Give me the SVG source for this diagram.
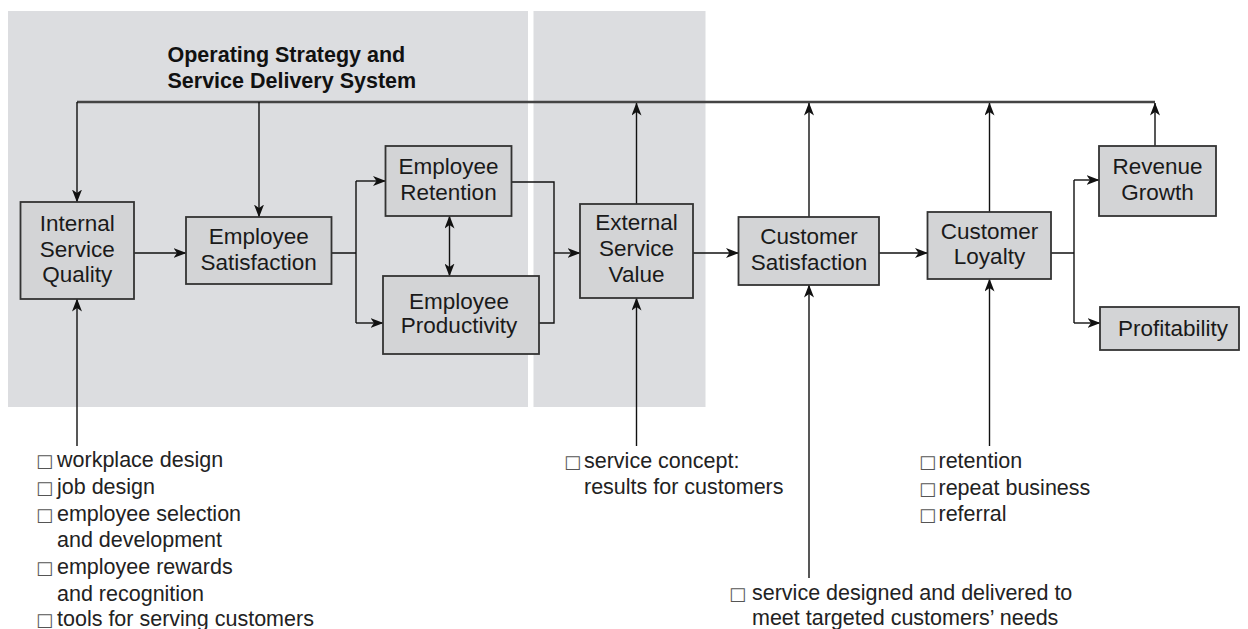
<svg xmlns="http://www.w3.org/2000/svg" width="1248" height="629" viewBox="0 0 1248 629">
<defs>
<marker id="ah" viewBox="0 0 13 10" markerWidth="13" markerHeight="10" refX="12.5" refY="5" orient="auto-start-reverse" markerUnits="userSpaceOnUse">
<path d="M0,0 L13,5 L0,10 L3.5,5 Z" fill="#111"/>
</marker>
<style>
.panel{fill:#dcdde0}
.node rect{fill:#d3d4d6;stroke:#333;stroke-width:1.8}
.node text{font-family:"Liberation Sans",Arial,sans-serif;font-size:22.5px;fill:#1a1a1a;text-anchor:middle}
.title{font-family:"Liberation Sans",Arial,sans-serif;font-size:21.5px;font-weight:bold;fill:#111}
.c{fill:none;stroke:#111;stroke-width:1.4}
.arr{marker-end:url(#ah)}
.top{fill:none;stroke:#444;stroke-width:2.4}
.list{font-family:"Liberation Sans",Arial,sans-serif;font-size:21.5px;fill:#222}
.bx{font-family:"DejaVu Sans",sans-serif;font-size:18px;fill:#555}
</style>
</defs>
<rect width="1248" height="629" fill="#fff"/>
<rect class="panel" x="8" y="11" width="520" height="396"/>
<rect class="panel" x="533.5" y="11" width="172" height="396"/>
<text class="title" x="167.5" y="62">Operating Strategy and</text>
<text class="title" x="167.5" y="87.5">Service Delivery System</text>

<g id="connectors">
<path class="top" d="M77,102 H1155"/>
<path class="c arr" d="M77,102 V202"/>
<path class="c arr" d="M259,102 V217"/>
<path class="c arr" d="M636.5,204 V103"/>
<path class="c arr" d="M809,217 V103"/>
<path class="c arr" d="M989.5,212 V103"/>
<path class="c arr" d="M1155,146 V103"/>
<path class="c arr" d="M134,253 H186"/>
<path class="c" d="M332,253 H356 M356,181 V323"/>
<path class="c arr" d="M356,181 H385.5"/>
<path class="c arr" d="M356,323 H383"/>
<path class="c" d="M511.5,182 H554 V323 H539"/>
<path class="c arr" d="M554,253 H580"/>
<path class="c arr" d="M449.5,216 V276" marker-start="url(#ah)"/>
<path class="c arr" d="M693,253 H738.5"/>
<path class="c arr" d="M879,253 H927.5"/>
<path class="c" d="M1051,253 H1074 M1074,180 V323"/>
<path class="c arr" d="M1074,180 H1099"/>
<path class="c arr" d="M1074,323 H1100"/>
<path class="c arr" d="M77,446 V299"/>
<path class="c arr" d="M636.5,446 V298"/>
<path class="c arr" d="M809,578 V285"/>
<path class="c arr" d="M989.5,446 V279"/>
</g>

<g id="internal-service-quality" class="node">
<rect x="20.5" y="202" width="113.5" height="97"/>
<text x="77.3" y="230.5">Internal</text>
<text x="77.3" y="256.5">Service</text>
<text x="77.3" y="282">Quality</text>
</g>
<g id="employee-satisfaction" class="node">
<rect x="186" y="217" width="145.5" height="67"/>
<text x="258.7" y="244">Employee</text>
<text x="258.7" y="269.5">Satisfaction</text>
</g>
<g id="employee-retention" class="node">
<rect x="385.5" y="146" width="126" height="70"/>
<text x="448.5" y="173.5">Employee</text>
<text x="448.5" y="199.5">Retention</text>
</g>
<g id="employee-productivity" class="node">
<rect x="383" y="276" width="156" height="78"/>
<text x="459" y="309">Employee</text>
<text x="459" y="333">Productivity</text>
</g>
<g id="external-service-value" class="node">
<rect x="580" y="204" width="113" height="94"/>
<text x="636.5" y="230">External</text>
<text x="636.5" y="256">Service</text>
<text x="636.5" y="281.5">Value</text>
</g>
<g id="customer-satisfaction" class="node">
<rect x="738.5" y="217" width="140.5" height="68"/>
<text x="809" y="244">Customer</text>
<text x="809" y="269.5">Satisfaction</text>
</g>
<g id="customer-loyalty" class="node">
<rect x="927.5" y="212" width="123.5" height="67"/>
<text x="989.5" y="239">Customer</text>
<text x="989.5" y="264">Loyalty</text>
</g>
<g id="revenue-growth" class="node">
<rect x="1099" y="146" width="117" height="70"/>
<text x="1157.5" y="173.5">Revenue</text>
<text x="1157.5" y="199.5">Growth</text>
</g>
<g id="profitability" class="node">
<rect x="1100" y="307" width="139" height="43"/>
<text x="1173" y="335.5">Profitability</text>
</g>

<g id="list-internal">
<text class="list" y="467"><tspan class="bx" x="36">□</tspan><tspan x="57">workplace design</tspan></text>
<text class="list" y="494"><tspan class="bx" x="36">□</tspan><tspan x="57">job design</tspan></text>
<text class="list" y="520.5"><tspan class="bx" x="36">□</tspan><tspan x="57">employee selection</tspan></text>
<text class="list" x="57" y="547">and development</text>
<text class="list" y="574"><tspan class="bx" x="36">□</tspan><tspan x="57">employee rewards</tspan></text>
<text class="list" x="57" y="600.5">and recognition</text>
<text class="list" y="626"><tspan class="bx" x="36">□</tspan><tspan x="57">tools for serving customers</tspan></text>
</g>
<g id="list-external">
<text class="list" y="468"><tspan class="bx" x="564">□</tspan><tspan x="584">service concept:</tspan></text>
<text class="list" x="584" y="494">results for customers</text>
</g>
<g id="list-satisfaction">
<text class="list" y="600"><tspan class="bx" x="729">□</tspan><tspan x="752">service designed and delivered to</tspan></text>
<text class="list" x="752" y="624.5">meet targeted customers’ needs</text>
</g>
<g id="list-loyalty">
<text class="list" y="468"><tspan class="bx" x="919">□</tspan><tspan x="938.5">retention</tspan></text>
<text class="list" y="494.5"><tspan class="bx" x="919">□</tspan><tspan x="938.5">repeat business</tspan></text>
<text class="list" y="521"><tspan class="bx" x="919">□</tspan><tspan x="938.5">referral</tspan></text>
</g>
</svg>
